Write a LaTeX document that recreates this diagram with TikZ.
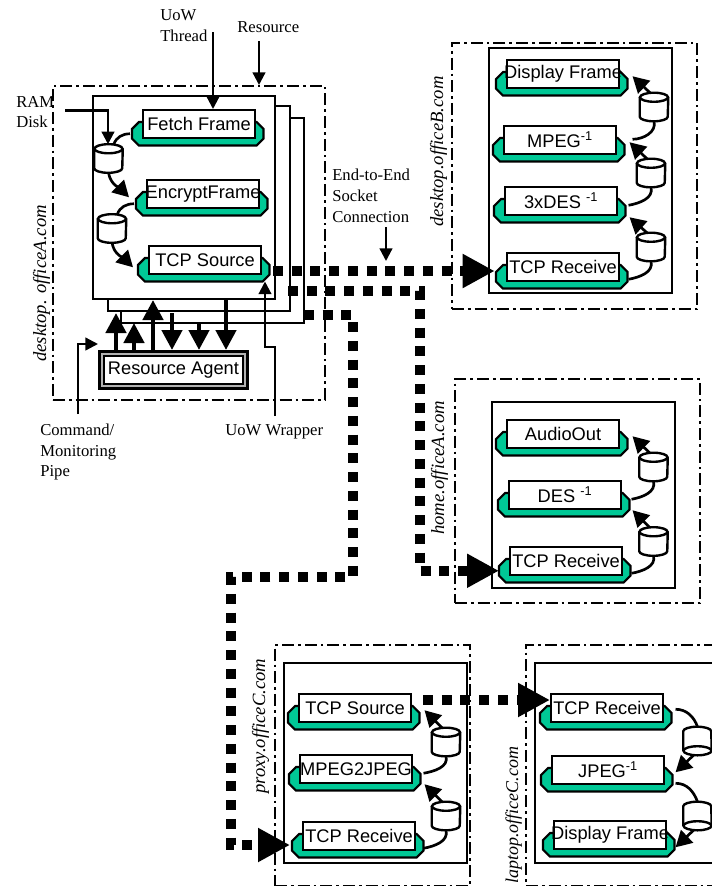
\documentclass[tikz,border=0pt]{standalone}
\usepackage{fontspec}
\setmainfont{Liberation Serif}
\setsansfont{Liberation Sans}
\usetikzlibrary{arrows.meta,calc}
\definecolor{uowgreen}{RGB}{0,200,150}
\tikzset{
  host/.style={draw,line width=1.3pt,fill=none,dash pattern=on 9pt off 3pt on 2pt off 3pt,inner sep=0pt,anchor=north west},
  stackbox/.style={draw,line width=1.5pt,fill=white,inner sep=0pt,anchor=north west},
  plaquegreen/.style={inner sep=0pt,minimum width=98.25pt,minimum height=17.25pt,anchor=north west},
  plaquewhite/.style={draw,line width=1.6pt,fill=white,inner sep=0pt,minimum width=84pt,minimum height=21pt,anchor=north west,font=\sffamily\fontsize{13.7pt}{16pt}\selectfont},
  diskanchor/.style={inner sep=0pt,minimum width=21pt,minimum height=21pt},
  wire/.style={line width=1.7pt,-{Triangle[length=9.5pt,width=9.5pt]}},
  backcurve/.style={line width=2pt},
  feedcurve/.style={line width=2pt,-{Triangle[length=12pt,width=13pt]}},
  agentarrow/.style={line width=3.4pt,-{Triangle[length=15pt,width=15pt]}},
  flow/.style={line width=7.5pt,dash pattern=on 7.5pt off 6.56pt,-{Triangle[length=24pt,width=24pt]}},
  note/.style={font=\rmfamily\fontsize{12.5pt}{15.6pt}\selectfont,align=left,anchor=west,inner sep=0pt},
  hostname/.style={font=\rmfamily\itshape\fontsize{14pt}{16pt}\selectfont,rotate=90,anchor=base west,inner sep=0pt},
}
\newcommand{\plaque}[4]{%
  \node[plaquegreen] (#1g) at ({#2-10},{#3+13}) {};
  \draw[line width=1.6pt,fill=uowgreen] ($(#1g.north west)+(7,0)$) -- ($(#1g.north east)+(-7,0)$) -- ($(#1g.north east)+(0,7)$) -- ($(#1g.south east)+(0,-7)$) -- ($(#1g.south east)+(-7,0)$) -- ($(#1g.south west)+(7,0)$) -- ($(#1g.south west)+(0,-7)$) -- ($(#1g.north west)+(0,7)$) -- cycle;
  \node[plaquewhite] (#1) at (#2,#3) {\makebox[0pt][c]{#4}};}
% ram disk: #1 name, #2,#3 centre; ellipse on top
\newcommand{\disk}[3]{%
  \node[diskanchor] (#1) at (#2,#3) {};
  \draw[line width=1.8pt,fill=white] ($(#1.north west)+(0,4.5)$) -- ($(#1.south west)+(0,-4.5)$) arc[start angle=180,end angle=360,x radius=10.5pt,y radius=3.4pt] -- ($(#1.north east)+(0,4.5)$);
  \draw[line width=1.8pt,fill=white] ($(#1.north)+(0,4.5)$) ellipse[x radius=10.5pt,y radius=3.4pt];}
% the same, drawn with its ellipse at the bottom
\newcommand{\diskdown}[3]{%
  \node[diskanchor] (#1) at (#2,#3) {};
  \draw[line width=1.8pt,fill=white] ($(#1.south west)+(0,-4.5)$) -- ($(#1.north west)+(0,4.5)$) arc[start angle=180,end angle=0,x radius=10.5pt,y radius=3.4pt] -- ($(#1.south east)+(0,-4.5)$);
  \draw[line width=1.8pt,fill=white] ($(#1.south)+(0,-4.5)$) ellipse[x radius=10.5pt,y radius=3.4pt];}
\newcommand{\hostbox}[5]{\node[host,minimum width={(#4-#2)*0.75pt},minimum height={(#5-#3)*0.75pt}] (#1) at (#2,#3) {};}
\newcommand{\inner}[5]{\node[stackbox,minimum width={(#4-#2)*0.75pt},minimum height={(#5-#3)*0.75pt}] (#1) at (#2,#3) {};}
\begin{document}
\begin{tikzpicture}[x=0.75pt,y=-0.75pt]
\useasboundingbox (0,0) rectangle (712,886);
\clip (0,0) rectangle (712,886);

% hosts
\hostbox{hostA}{52}{85}{324}{399}
\hostbox{hostB}{451}{42}{696}{308}
\hostbox{hostH}{454}{378}{699}{602}
\hostbox{hostP}{274}{644}{469}{885}
\hostbox{hostL}{525}{644}{760}{885}

% work areas
\inner{resC}{120}{117}{303}{322}
\inner{resB}{107}{105}{289}{310}
\inner{resA}{92}{95}{274}{298}
\inner{boxB}{488}{47}{671}{292}
\inner{boxH}{491}{401}{674}{587}
\inner{boxP}{283}{662}{466}{862}
\inner{boxL}{534}{662}{760}{862}

% host names
\node[hostname] (nameA) at (46,362) {desktop. officeA.com};
\node[hostname] (nameB) at (443,227) {desktop.officeB.com};
\node[hostname] (nameH) at (444,535) {home.officeA.com};
\node[hostname] (nameP) at (265,794) {proxy.officeC.com};
\node[hostname,font=\rmfamily\itshape\fontsize{13.5pt}{16pt}\selectfont] (nameL) at (518,884) {laptop.officeC.com};

% plaques
\plaque{fetch}{142}{109}{Fetch Frame}
\plaque{encrypt}{146}{179}{EncryptFrame}
\plaque{tcpA}{148}{245}{TCP Source}
\plaque{dispB}{506}{59}{Display Frame}
\plaque{mpegB}{503}{125}{MPEG\textsuperscript{-1}}
\plaque{desB}{504}{186}{3xDES \textsuperscript{-1}}
\plaque{tcpB}{506}{252}{TCP Receive}
\plaque{audioH}{506}{419}{AudioOut}
\plaque{desH}{508}{480}{DES \textsuperscript{-1}}
\plaque{tcpH}{509}{546}{TCP Receive}
\plaque{srcP}{298}{693}{TCP Source}
\plaque{mjP}{299}{754}{MPEG2JPEG}
\plaque{tcpP}{302}{821}{TCP Receive}
\plaque{tcpL}{550}{693}{TCP Receive}
\plaque{jpegL}{551}{755}{JPEG\textsuperscript{-1}}
\plaque{dispL}{553}{820}{Display Frame}

% ram disks
\disk{a1}{108.5}{158.5}
\disk{a2}{112}{228.5}
\disk{b1}{654}{107}
\disk{b2}{651}{173}
\disk{b3}{651}{247}
\disk{h1}{653.5}{467}
\disk{h2}{653.5}{541.5}
\disk{p1}{446}{742}
\disk{p2}{446}{816}
\diskdown{l1}{697.5}{741}
\diskdown{l2}{697.5}{816}

% desktop A internal data flow
\draw[backcurve] ([xshift=-1.5pt]fetchg.west) to[out=180,in=70] ([xshift=4]a1.north);
\draw[feedcurve] (a1.south) to[out=-80,in=135] ([shift={(-7,-6.5)}]encryptg.west);
\draw[backcurve] ([xshift=-1.5pt]encryptg.west) to[out=180,in=70] ([xshift=4]a2.north);
\draw[feedcurve] (a2.south) to[out=-80,in=135] ([shift={(-5,-2.5)}]tcpAg.west);

% desktop B
\draw[feedcurve] ([xshift=-3]b1.north) -- ([shift={(5,-7.5)}]dispBg.east);
\draw[backcurve] ([shift={(8,-10.5)}]mpegBg.east) to[out=0,in=-75] (b1.south);
\draw[feedcurve] ([xshift=-3]b2.north) -- ([shift={(5,-7.5)}]mpegBg.east);
\draw[backcurve] ([shift={(3,-5.5)}]desBg.east) to[out=10,in=-75] (b2.south);
\draw[feedcurve] ([xshift=-3]b3.north) -- ([shift={(4,6.5)}]desBg.east);
\draw[backcurve] ([shift={(1,2.5)}]tcpBg.east) to[out=10,in=-75] (b3.south);

% home
\draw[feedcurve] ([xshift=-3]h1.north) -- ([shift={(5,-7.5)}]audioHg.east);
\draw[backcurve] ([shift={(2,-5.5)}]desHg.east) to[out=10,in=-75] (h1.south);
\draw[feedcurve] ([xshift=-3]h2.north) -- ([shift={(3,5.5)}]desHg.east);
\draw[backcurve] ([shift={(1,2.5)}]tcpHg.east) to[out=10,in=-75] (h2.south);

% proxy
\draw[feedcurve] ([xshift=-3]p1.north) -- ([shift={(5,-7.5)}]srcPg.east);
\draw[backcurve] ([shift={(3,-5.5)}]mjPg.east) to[out=10,in=-75] (p1.south);
\draw[feedcurve] ([xshift=-3]p2.north) -- ([shift={(4,5.5)}]mjPg.east);
\draw[backcurve] ([shift={(0,2.5)}]tcpPg.east) to[out=10,in=-75] (p2.south);

% laptop
\draw[backcurve] ([shift={(4,-8.5)}]tcpLg.east) to[out=0,in=110] (l1.north);
\draw[feedcurve] ([xshift=-3]l1.south) -- ([shift={(3,-7.5)}]jpegLg.east);
\draw[backcurve] ([shift={(3,3.5)}]jpegLg.east) to[out=0,in=110] (l2.north);
\draw[feedcurve] ([xshift=-3]l2.south) -- ([shift={(1,2.5)}]dispLg.east);

% resource agent
\node[draw,line width=2.2pt,fill=gray!60,minimum width=111pt,minimum height=27.5pt,inner sep=0pt,anchor=north west] (agentframe) at (98,350) {};
\node[draw,line width=1.2pt,fill=white,minimum width=104pt,minimum height=21pt,inner sep=0pt,font=\sffamily\fontsize{13.7pt}{16pt}\selectfont] (agent) at (agentframe.center) {Resource Agent};

\coordinate (u1) at (116,313);
\coordinate (u2) at (134,323);
\coordinate (u3) at (153,300);
\coordinate (d1) at (172,313);
\coordinate (d2) at (199,323);
\coordinate (d3) at (226,298);
\draw[agentarrow] (u1|-agentframe.north) -- (u1);
\draw[agentarrow] (u2|-agentframe.north) -- (u2);
\draw[agentarrow] (u3|-agentframe.north) -- (u3);
\draw[agentarrow] (d1) -- (d1|-agentframe.north);
\draw[agentarrow] (d2) -- (d2|-agentframe.north);
\draw[agentarrow] (d3) -- (d3|-agentframe.north);

% labels
\node[note] (lblThread) at (160,26) {UoW\\Thread};
\node[note] (lblRes) at (237,27) {Resource};
\node[note] (lblRam) at (16,112) {RAM\\Disk};
\node[note] (lblSock) at (332,196) {End-to-End\\Socket\\Connection};
\node[note] (lblPipe) at (40,452) {Command/\\Monitoring\\Pipe};
\node[note] (lblWrap) at (225,432) {UoW Wrapper};

% label arrows
\coordinate (t0) at (213,32);
\coordinate (r0) at (259,41);
\coordinate (k0) at (65,110.5);
\coordinate (k1) at (108,110.5);
\coordinate (c0) at (78,414);
\coordinate (c1) at (78,344);
\coordinate (w0) at (275,416);
\coordinate (w1) at (275,347);
\coordinate (w2) at (265,347);
\coordinate (e0) at (386,227);
\coordinate (e1) at (386,261);
\draw[wire] (t0) -- (t0|-fetch.north);
\draw[wire] (r0) -- (r0|-hostA.north);
\draw[wire] (k0) -- (k1) -- (a1.north-|k1);
\draw[wire] (c0) -- (c1) -- (agentframe.north west|-c1);
\draw[wire] (w0) -- (w1) -- (w2) -- (w2|-tcpAg.south);
\draw[wire] (e0) -- (e1);

% socket connections
\coordinate (s1) at (273,271);
\coordinate (s2) at (288,291);
\coordinate (s3) at (304,315);
\coordinate (s4) at (420,291);
\coordinate (s5) at (353,315);
\coordinate (s6) at (353,577);
\coordinate (s7) at (231,577);
\coordinate (s8) at (231,845);
\coordinate (s9) at (423,700);
\draw[flow] (s1) -- ([xshift=-1pt]tcpBg.west|-s1);
\draw[flow] (s2) -- (s4) -- (s4|-tcpHg.west) -- (tcpHg.west);
\draw[flow] (s3) -- (s5) -- (s6) -- (s7) -- (s8) -- ([xshift=-1.5pt]tcpPg.west|-s8);
\draw[flow] (s9) -- (tcpL.west|-s9);
\end{tikzpicture}
\end{document}
